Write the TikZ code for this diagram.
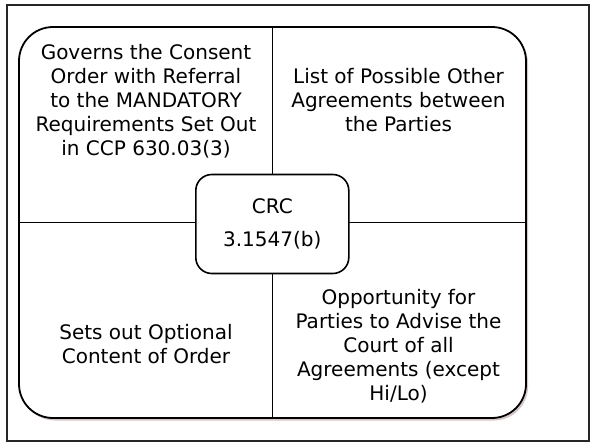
\documentclass[tikz,border=0pt]{standalone}
\usepackage{fontspec}
\setmainfont{DejaVu Sans}
\begin{document}
\begin{tikzpicture}[x=1pt,y=-1pt,
  frame/.style={draw=black!85,line width=2pt},
  panel/.style={draw=black,line width=1.8pt,fill=white,rounded corners=34pt},
  panelshadow/.style={fill=red!25!black!22,rounded corners=34pt},
  divider/.style={draw=black,line width=0.9pt},
  hub/.style={draw=black,line width=1.6pt,fill=white,rounded corners=16pt,
    minimum width=153pt,minimum height=99pt,align=center,inner sep=0pt,
    font=\fontsize{20}{24}\selectfont},
  quad/.style={align=center,inner sep=0pt,font=\fontsize{20}{24}\selectfont}]
  \useasboundingbox (0,0) rectangle (592,445);
  \fill[white] (0,0) rectangle (592,445);
  % outer frame
  \draw[frame] (7,4.5) rectangle (589,440.5);
  % rounded panel with a faint drop shadow
  \fill[panelshadow] (21,29.5) rectangle (528,420.5);
  \draw[panel] (19,27) rectangle (526,418);
  % quadrant dividers
  \coordinate (ntop) at (272.5,27);
  \coordinate (nbot) at (272.5,418);
  \coordinate (wleft) at (19,222);
  \coordinate (eright) at (526,222);
  \draw[divider] (ntop) -- (nbot);
  \draw[divider] (wleft) -- (eright);
  % central rule reference
  \node[hub] (crc) at (272.3,224) {CRC\\[9pt]3.1547(b)};
  % quadrant texts
  \node[quad] (tl) at (146,101) {Governs the Consent\\Order with Referral\\to the MANDATORY\\Requirements Set Out\\in CCP 630.03(3)};
  \node[quad] (tr) at (398.5,100.5) {List of Possible Other\\Agreements between\\the Parties};
  \node[quad] (bl) at (146,344.5) {Sets out Optional\\Content of Order};
  \node[quad] (br) at (398.5,346) {Opportunity for\\Parties to Advise the\\Court of all\\Agreements (except\\Hi/Lo)};
\end{tikzpicture}
\end{document}
